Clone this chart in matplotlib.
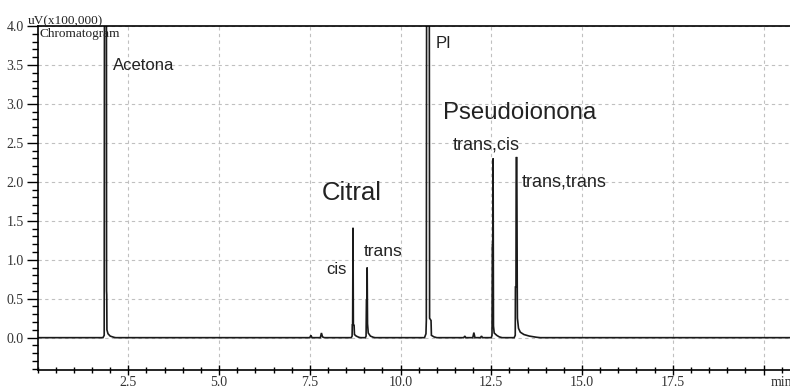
import numpy as np
import matplotlib
matplotlib.use('Agg')
import matplotlib.pyplot as plt
from matplotlib.ticker import MultipleLocator, FixedLocator

# Trace vertices (retention time in min, signal in uV x100,000)
acetona_t = [1.80, 1.835, 1.845, 1.895, 1.90, 1.905, 1.91, 1.94, 2.00, 2.10, 2.15]
acetona_y = [0.0, 0.03, 6.0, 6.0, 0.60, 0.55, 0.10, 0.05, 0.02, 0.005, 0.0]

menores1_t = [7.50, 7.53, 7.56, 7.79, 7.82, 7.85, 7.90]
menores1_y = [0.0, 0.03, 0.0, 0.0, 0.06, 0.01, 0.0]

cis_t = [8.64, 8.665, 8.67, 8.68, 8.69, 8.70, 8.72, 8.73, 8.78, 8.85, 8.90]
cis_y = [0.0, 0.02, 0.16, 0.16, 1.41, 0.17, 0.16, 0.04, 0.02, 0.005, 0.0]

trans_t = [9.03, 9.05, 9.06, 9.07, 9.08, 9.09, 9.11, 9.17, 9.25, 9.30]
trans_y = [0.0, 0.02, 0.48, 0.48, 0.90, 0.18, 0.06, 0.02, 0.005, 0.0]

pi_t = [10.66, 10.70, 10.71, 10.72, 10.79, 10.80, 10.84, 10.85, 10.92, 11.00]
pi_y = [0.0, 0.05, 0.22, 5.5, 5.5, 0.25, 0.22, 0.03, 0.01, 0.0]

menores2_t = [11.74, 11.77, 11.80, 11.99, 12.02, 12.05, 12.20, 12.23, 12.26]
menores2_y = [0.0, 0.02, 0.0, 0.0, 0.065, 0.0, 0.0, 0.02, 0.0]

tc_t = [12.50, 12.52, 12.53, 12.54, 12.55, 12.56, 12.58, 12.65, 12.72, 12.80]
tc_y = [0.0, 0.03, 1.19, 1.19, 2.30, 0.15, 0.06, 0.03, 0.01, 0.0]

tt_t = [13.13, 13.16, 13.165, 13.18, 13.185, 13.195, 13.205, 13.215, 13.22,
        13.25, 13.30, 13.40, 13.55, 13.75, 13.85]
tt_y = [0.0, 0.03, 0.65, 0.65, 2.0, 2.32, 2.0, 0.65, 0.25,
        0.12, 0.07, 0.04, 0.02, 0.005, 0.0]

x_ticks = [2.5, 5.0, 7.5, 10.0, 12.5, 15.0, 17.5, 20.0]
x_labels = ['2.5', '5.0', '7.5', '10.0', '12.5', '15.0', '17.5', '']
y_ticks = [0.0, 0.5, 1.0, 1.5, 2.0, 2.5, 3.0, 3.5, 4.0]

# Etiquetas de picos: (texto, x, y, tamaño)
etiquetas = [
    ('Acetona', 2.08, 3.49, 12),
    ('PI', 10.98, 3.77, 12),
    ('Pseudoionona', 11.17, 2.88, 17.3),
    ('Citral', 7.83, 1.86, 18.5),
    ('cis', 7.95, 0.87, 12),
    ('trans', 8.99, 1.10, 12.5),
    ('trans,cis', 11.44, 2.47, 13),
    ('trans,trans', 13.34, 2.0, 13),
]

t = [0.0] + acetona_t + menores1_t + cis_t + trans_t + pi_t + menores2_t + tc_t + tt_t + [20.8]
y = [0.0] + acetona_y + menores1_y + cis_y + trans_y + pi_y + menores2_y + tc_y + tt_y + [0.0]

fig = plt.figure(figsize=(7.9, 3.89), dpi=100)
ax = fig.add_axes([37.6 / 790, 19 / 389, 1 - 37.6 / 790, (370 - 26) / 389])

ax.plot(t, y, color='#1a1a1a', lw=1.2, solid_joinstyle='miter')

ax.set_xlim(0, 20.73)
ax.set_ylim(-0.415, 4.0)

ax.xaxis.set_major_locator(FixedLocator(x_ticks))
ax.set_xticklabels(x_labels)
ax.xaxis.set_minor_locator(MultipleLocator(0.5))
ax.set_yticks(y_ticks)
ax.set_yticklabels(['%.1f' % v for v in y_ticks])
ax.yaxis.set_minor_locator(MultipleLocator(0.1))

ax.grid(True, which='major', color='#c0c0c0', ls=(0, (3, 3)), lw=0.8)
ax.tick_params(axis='x', which='major', direction='inout', length=7, width=1, pad=1,
               labelsize=10, labelcolor='#333333')
ax.tick_params(axis='x', which='minor', direction='inout', length=4, width=1)
ax.tick_params(axis='y', which='major', direction='out', length=8, width=1, pad=2,
               labelsize=10, labelcolor='#333333')
ax.tick_params(axis='y', which='minor', direction='out', length=4, width=1)
for lab in ax.get_xticklabels() + ax.get_yticklabels():
    lab.set_family('Liberation Serif')

ax.spines['right'].set_visible(False)
for s in ['left', 'bottom', 'top']:
    ax.spines[s].set_linewidth(1.2)

fig.text(28 / 790, (389 - 24) / 389, 'uV(x100,000)', family='Liberation Serif',
         fontsize=9.5, color='#222222', va='baseline', ha='left')
ax.text(0.003, 0.995, 'Chromatogram', transform=ax.transAxes, family='Liberation Serif',
        fontsize=9.5, color='#222222', va='top', ha='left')
ax.text(20.2, -0.49, 'min', family='Liberation Serif', fontsize=10, color='#333333',
        va='top', ha='left', clip_on=False)

for texto, xe, ye, tam in etiquetas:
    ax.text(xe, ye, texto, family='Liberation Sans', fontsize=tam, color='#222222',
            va='center', ha='left')

fig.savefig('out.png', dpi=100)
